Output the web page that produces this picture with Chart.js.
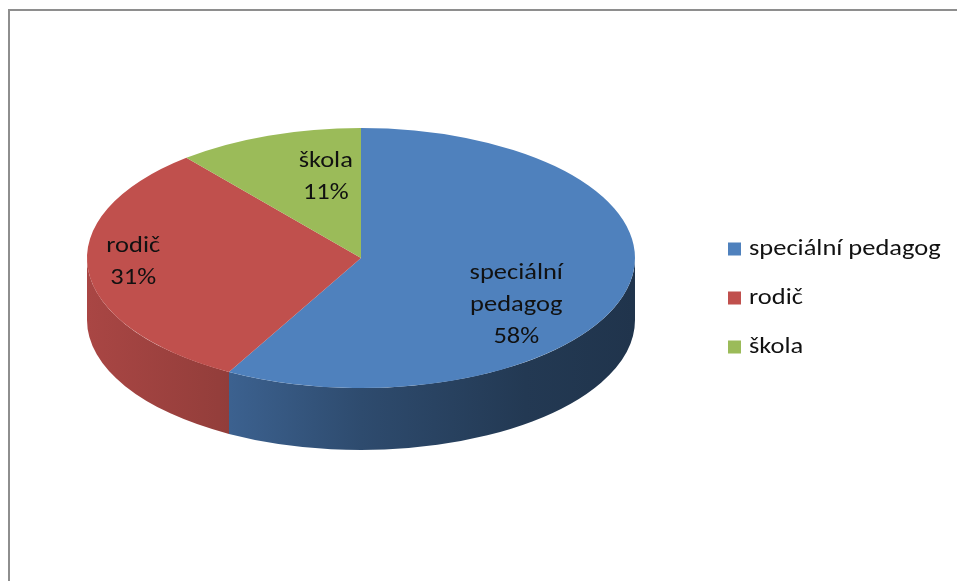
<!DOCTYPE html>
<html>
<head>
<meta charset="utf-8">
<script src="https://cdn.jsdelivr.net/npm/chart.js@4.4.1/dist/chart.umd.min.js"></script>
<style>
  html, body { margin: 0; padding: 0; background: #fff; }
  canvas { display: block; }
</style>
</head>
<body>
<canvas id="pieChart" width="957" height="581"></canvas>
<script>
// Data
const categories = ['speciální pedagog', 'rodič', 'škola'];
const shares = [58, 31, 11];

// Look
const sliceColors = ['#4F81BD', '#C0504D', '#9BBB59'];
const FONT_FAMILY = 'Carlito, Lato, "Open Sans", sans-serif';
const FONT_SIZE = 23;
const TEXT_STRETCH = 1.15;   // the whole chart is a bit wider than tall
const TEXT_COLOR = '#111';

// tilted pie: vertical radius of the top face and thickness of the rim
const PIE = { cy: 258, ry: 130, depth: 62 };

// brightness along the rim, left to right
const rimShade = [[0, 0.88], [0.24, 0.77], [0.5, 0.58], [0.8, 0.44], [1, 0.40]];

// where the in-slice labels sit (fraction of radius along mid angle + nudge)
const labelPlace = [
    { f: 0.585, dx: 0, dy: 28 },
    { f: 0.835, dx: 0, dy: -6 },
    { f: 0.66, dx: 26, dy: 0 }
];
const LABEL_LINE = 32;

const legendBox = { x: 728, y: 249, gap: 49, size: 13, textX: 749 };

function shade(hex, f) {
    const n = parseInt(hex.slice(1), 16);
    const r = Math.round(((n >> 16) & 255) * f);
    const g = Math.round(((n >> 8) & 255) * f);
    const b = Math.round((n & 255) * f);
    return `rgb(${r}, ${g}, ${b})`;
}

function drawText(ctx, text, x, y) {
    ctx.save();
    ctx.translate(x, y);
    ctx.scale(TEXT_STRETCH, 1);
    ctx.fillText(text, 0, 0);
    ctx.restore();
}

// Draw the visible front side of each slice
function drawRim(ctx, arcs, k) {
    arcs.forEach((arc, i) => {
        const x = arc.x;
        const r = arc.outerRadius;
        const ry = r * k;
        [[0, Math.PI], [2 * Math.PI, 3 * Math.PI]].forEach(([lo, hi]) => {
            const a0 = Math.max(arc.startAngle, lo);
            const a1 = Math.min(arc.endAngle, hi);
            if (a1 <= a0) return;
            const grad = ctx.createLinearGradient(x - r, 0, x + r, 0);
            rimShade.forEach(([t, f]) => grad.addColorStop(t, shade(sliceColors[i], f)));
            ctx.beginPath();
            ctx.ellipse(x, PIE.cy, r, ry, 0, a0, a1);
            ctx.ellipse(x, PIE.cy + PIE.depth, r, ry, 0, a1, a0, true);
            ctx.closePath();
            ctx.fillStyle = grad;
            ctx.fill();
        });
    });
}

const tiltPlugin = {
    id: 'tilt',
    beforeDraw(chart) {
        const ctx = chart.ctx;
        // frame, open to the right and bottom
        ctx.save();
        ctx.strokeStyle = '#8e8e8e';
        ctx.lineWidth = 2;
        ctx.beginPath();
        ctx.moveTo(9, chart.height + 2);
        ctx.lineTo(9, 10);
        ctx.lineTo(chart.width + 2, 10);
        ctx.stroke();
        ctx.restore();
    },
    beforeDatasetsDraw(chart) {
        const ctx = chart.ctx;
        const arcs = chart.getDatasetMeta(0).data;
        const k = PIE.ry / arcs[0].outerRadius;
        drawRim(ctx, arcs, k);
        // squash the flat pie into the top face
        ctx.save();
        ctx.translate(0, PIE.cy);
        ctx.scale(1, k);
        ctx.translate(0, -arcs[0].y);
    },
    afterDatasetsDraw(chart) {
        chart.ctx.restore();
    },
    afterDraw(chart) {
        const ctx = chart.ctx;
        const arcs = chart.getDatasetMeta(0).data;
        const total = shares.reduce((a, b) => a + b, 0);

        ctx.save();
        ctx.font = `${FONT_SIZE}px ${FONT_FAMILY}`;
        ctx.fillStyle = TEXT_COLOR;
        ctx.textAlign = 'center';
        ctx.textBaseline = 'middle';
        arcs.forEach((arc, i) => {
            const mid = (arc.startAngle + arc.endAngle) / 2;
            const p = labelPlace[i];
            const x = arc.x + Math.cos(mid) * arc.outerRadius * p.f + p.dx;
            const y = PIE.cy + Math.sin(mid) * PIE.ry * p.f + p.dy;
            const pct = Math.round(shares[i] / total * 100) + '%';
            const lines = categories[i].split(' ').concat(pct);
            lines.forEach((t, j) => {
                drawText(ctx, t, x, y + (j - (lines.length - 1) / 2) * LABEL_LINE);
            });
        });

        // legend
        ctx.textAlign = 'left';
        categories.forEach((name, i) => {
            const y = legendBox.y + i * legendBox.gap;
            ctx.fillStyle = sliceColors[i];
            ctx.fillRect(legendBox.x, y - legendBox.size / 2, legendBox.size, legendBox.size);
            ctx.fillStyle = TEXT_COLOR;
            drawText(ctx, name, legendBox.textX, y);
        });
        ctx.restore();
    }
};

new Chart(document.getElementById('pieChart'), {
    type: 'pie',
    data: {
        labels: categories,
        datasets: [{
            data: shares,
            backgroundColor: sliceColors,
            borderWidth: 0,
            radius: 274
        }]
    },
    options: {
        responsive: false,
        animation: false,
        events: [],
        layout: { padding: { left: 10, right: 245, top: 10, bottom: 10 } },
        plugins: {
            legend: { display: false },
            tooltip: { enabled: false }
        }
    },
    plugins: [tiltPlugin]
});
</script>
</body>
</html>
